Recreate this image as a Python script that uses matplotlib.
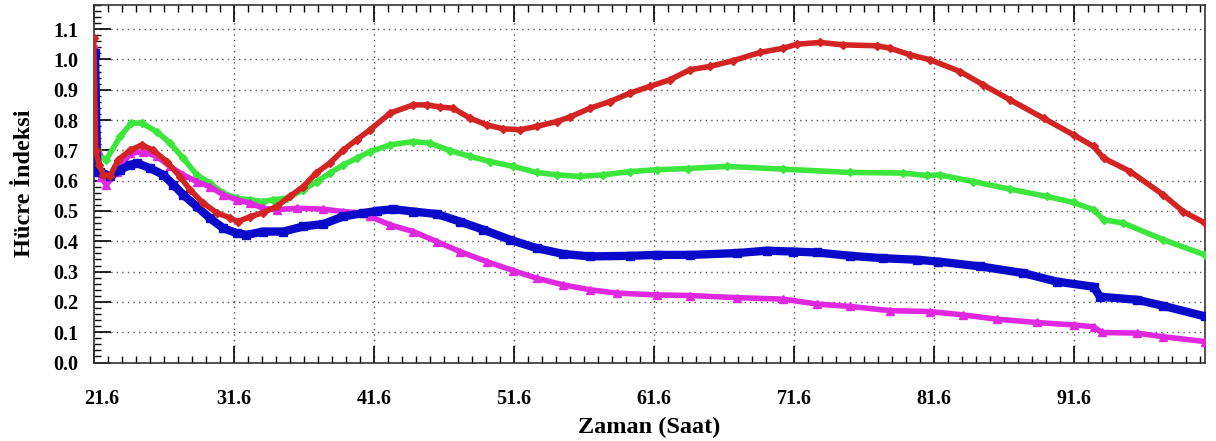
import numpy as np
import matplotlib
matplotlib.use('Agg')
import matplotlib.pyplot as plt
import matplotlib.transforms as mtransforms
from matplotlib.ticker import MultipleLocator, FixedLocator

plt.rcParams['font.family'] = ['Liberation Serif', 'DejaVu Serif']
plt.rcParams['font.weight'] = 'bold'

# values (time in hours, cell index)
red_t = [21.6, 21.75, 22.0, 22.3, 22.77, 23.36, 24.2, 25.03, 25.86, 26.82,
         27.77, 28.48, 29.4, 30.39, 31.33, 31.9, 32.76, 33.69, 34.67, 35.6,
         36.55, 37.5, 38.46, 39.4, 40.38, 41.33, 42.78, 44.4, 45.38, 46.3,
         47.25, 48.47, 49.66, 50.84, 52.04, 53.23, 54.65, 55.6, 57.03, 58.46,
         59.89, 61.31, 62.74, 64.17, 65.6, 67.26, 69.17, 70.83, 71.79, 73.45,
         75.1, 77.5, 78.45, 79.88, 81.3, 83.44, 85.1, 87.0, 89.4, 91.54,
         92.97, 93.7, 95.6, 97.95, 99.38, 100.93]
red_v = [1.07, 0.70, 0.65, 0.62, 0.616, 0.669, 0.70, 0.718, 0.70, 0.663,
         0.613, 0.57, 0.527, 0.494, 0.477, 0.465, 0.481, 0.494, 0.515, 0.548,
         0.58, 0.626, 0.658, 0.70, 0.735, 0.768, 0.823, 0.85, 0.85, 0.843,
         0.839, 0.806, 0.784, 0.771, 0.768, 0.779, 0.795, 0.81, 0.839, 0.861,
         0.889, 0.911, 0.933, 0.966, 0.977, 0.996, 1.023, 1.037, 1.05, 1.056,
         1.048, 1.045, 1.037, 1.015, 0.999, 0.96, 0.916, 0.867, 0.806, 0.751,
         0.713, 0.674, 0.63, 0.553, 0.498, 0.46]

green_t = [21.6, 21.8, 22.05, 22.5, 23.5, 24.3, 25.03, 26.1, 27.05, 28.0,
           28.96, 29.9, 30.86, 31.8, 32.76, 33.7, 34.43, 35.38, 36.57, 37.52,
           38.47, 39.42, 40.38, 41.33, 42.76, 44.42, 45.6, 47.04, 48.47, 49.9,
           51.56, 53.23, 54.65, 56.32, 57.98, 59.89, 61.79, 64.0, 66.79, 70.83,
           75.6, 79.4, 81.06, 81.99, 84.4, 87.0, 89.63, 91.54, 92.97, 93.7,
           95.1, 97.95, 100.93]
green_v = [0.922, 0.75, 0.68, 0.669, 0.746, 0.79, 0.79, 0.762, 0.724, 0.674,
           0.619, 0.592, 0.559, 0.542, 0.537, 0.531, 0.537, 0.542, 0.57, 0.597,
           0.625, 0.652, 0.674, 0.696, 0.718, 0.729, 0.724, 0.699, 0.68, 0.663,
           0.647, 0.627, 0.619, 0.614, 0.619, 0.63, 0.636, 0.64, 0.647, 0.638,
           0.627, 0.625, 0.617, 0.619, 0.597, 0.572, 0.548, 0.528, 0.504, 0.471,
           0.46, 0.405, 0.355]

blue_t = [21.7, 21.85, 22.06, 22.77, 23.5, 24.2, 24.68, 25.63, 26.58, 27.3,
          28.0, 28.96, 29.9, 30.86, 31.8, 32.5, 33.7, 35.14, 36.57, 38.0,
          39.42, 40.85, 41.8, 43.0, 44.42, 46.09, 47.75, 49.42, 51.32, 53.23,
          55.13, 57.03, 59.89, 61.79, 64.17, 67.5, 69.64, 71.55, 73.21, 75.6,
          77.97, 80.35, 81.9, 84.9, 87.96, 90.34, 92.97, 93.43, 96.05, 97.95,
          100.93]
blue_v = [1.02, 0.63, 0.63, 0.614, 0.636, 0.652, 0.658, 0.641, 0.619, 0.586,
          0.553, 0.515, 0.476, 0.443, 0.427, 0.421, 0.432, 0.432, 0.449, 0.457,
          0.482, 0.493, 0.5, 0.506, 0.498, 0.49, 0.465, 0.438, 0.405, 0.377,
          0.358, 0.35, 0.352, 0.355, 0.355, 0.361, 0.369, 0.366, 0.363, 0.352,
          0.344, 0.339, 0.333, 0.317, 0.295, 0.267, 0.25, 0.217, 0.207, 0.187,
          0.152]

mag_t = [21.7, 21.9, 22.1, 22.5, 23.25, 24.2, 25.15, 26.1, 27.05, 28.0,
         28.96, 29.9, 30.86, 31.8, 32.76, 33.7, 34.67, 36.1, 38.0, 39.42,
         40.85, 41.33, 42.76, 44.42, 46.09, 47.75, 49.66, 51.56, 53.23, 55.13,
         57.03, 58.94, 61.79, 64.17, 67.5, 70.83, 73.21, 75.6, 78.45, 81.3,
         83.67, 86.06, 88.9, 91.54, 92.97, 93.55, 96.05, 97.95, 100.93]
mag_v = [1.037, 0.7, 0.613, 0.586, 0.63, 0.69, 0.696, 0.68, 0.647, 0.619,
         0.597, 0.58, 0.553, 0.537, 0.526, 0.509, 0.504, 0.509, 0.506, 0.498,
         0.493, 0.482, 0.454, 0.432, 0.399, 0.366, 0.333, 0.303, 0.278, 0.256,
         0.24, 0.229, 0.223, 0.221, 0.214, 0.209, 0.193, 0.185, 0.171, 0.168,
         0.157, 0.143, 0.132, 0.124, 0.118, 0.099, 0.097, 0.085, 0.069]

x_ticks = [21.6, 31.6, 41.6, 51.6, 61.6, 71.6, 81.6, 91.6]
y_ticks = [0.0, 0.1, 0.2, 0.3, 0.4, 0.5, 0.6, 0.7, 0.8, 0.9, 1.0, 1.1]

fig = plt.figure(figsize=(12.16, 4.41), dpi=100)
ax = fig.add_axes([0.077, 0.178, 0.914, 0.811])

ax.plot(green_t, green_v, color='#3ce63c', lw=4, marker='D', ms=4.5, zorder=3)
ax.plot(mag_t, mag_v, color='#e028e0', lw=4, marker='^', ms=5.5, zorder=3)
ax.plot(blue_t, blue_v, color='#0a0ac8', lw=6, marker='s', ms=6, zorder=4)
ax.plot(red_t, red_v, color='#d42323', lw=4, marker='D', ms=4.5, zorder=5)

ax.set_xlim(21.6, 100.93)
ax.set_ylim(0, 1.18)

ax.xaxis.set_major_locator(FixedLocator(x_ticks))
ax.xaxis.set_minor_locator(MultipleLocator(1, offset=0.6))
ax.yaxis.set_major_locator(FixedLocator(y_ticks))
ax.yaxis.set_minor_locator(MultipleLocator(0.02))
ax.set_xticklabels(['%.1f' % v for v in x_ticks])
ax.set_yticklabels(['%.1f' % v for v in y_ticks])

ax.tick_params(axis='x', which='both', direction='in', top=True, bottom=True,
               labelsize=14.5, pad=19)
ax.tick_params(axis='x', which='major', length=12, width=1.2)
ax.tick_params(axis='x', which='minor', length=5, width=1)
ax.tick_params(axis='y', which='both', direction='in', left=True, right=False,
               labelsize=14.5, pad=11)
ax.tick_params(axis='y', which='major', length=12, width=1.2)
ax.tick_params(axis='y', which='minor', length=5, width=1)
for lab in ax.get_xticklabels() + ax.get_yticklabels():
    lab.set_fontweight('bold')

# first x label sits a bit to the right of its tick in the original
first = ax.get_xticklabels()[0]
first.set_transform(first.get_transform() +
                    mtransforms.ScaledTranslation(8 / 100, 0, fig.dpi_scale_trans))

ax.grid(True, which='major', color='#555555', linestyle=(0, (1, 3)), lw=1)
for s in ax.spines.values():
    s.set_linewidth(1.2)
    s.set_color('#333333')

ax.set_ylabel('Hücre İndeksi', fontsize=17.5, fontweight='bold', labelpad=13)
ax.set_xlabel('Zaman (Saat)', fontsize=17.5, fontweight='bold', labelpad=6)

fig.savefig('out.png', dpi=100)
